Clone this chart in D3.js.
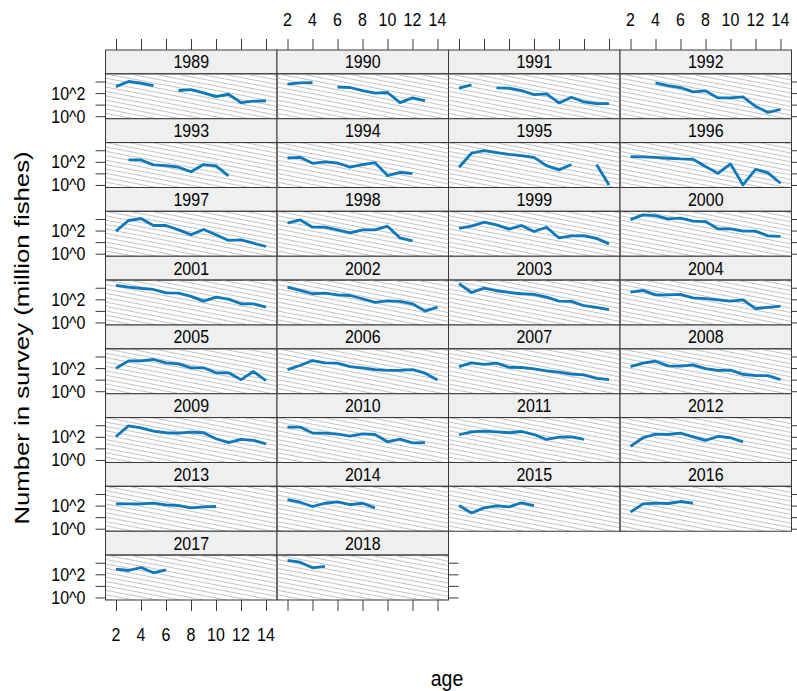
<!DOCTYPE html>
<html>
<head>
<meta charset="utf-8">
<script src="https://cdn.jsdelivr.net/npm/d3@7"></script>
<style>
  body { margin: 0; background: #fff; }
  text { font-family: Arial, "Liberation Sans", sans-serif; fill: #000; }
</style>
</head>
<body>
<div id="chart"></div>
<script>
'use strict';

// survey numbers by age (2..14), null = not sampled
var ages = [2, 3, 4, 5, 6, 7, 8, 9, 10, 11, 12, 13, 14];
var ageTicks = [2, 4, 6, 8, 10, 12, 14];
var years = [1989, 1990, 1991, 1992, 1993, 1994, 1995, 1996, 1997, 1998,
             1999, 2000, 2001, 2002, 2003, 2004, 2005, 2006, 2007, 2008,
             2009, 2010, 2011, 2012, 2013, 2014, 2015, 2016, 2017, 2018];
var yTicks = [1, 10, 100, 1000];
var yLabels = [[1, '10^0'], [100, '10^2']];

var n1989 = [363, 1000, 708, 447, null, 166, 200, 105, 50, 79, 15, 20, 21];
var n1990 = [589, 759, 813, null, 324, 302, 166, 98, 112, 15, 38, 22, null];
var n1991 = [263, 513, null, 282, 263, 166, 74, 85, 14, 44, 17, 12, 12];
var n1992 = [null, null, 759, 447, 302, 126, 155, 38, 38, 47, 7.2, 2.1, 3.8];
var n1993 = [null, 145, 145, 54, 47, 34, 14, 58, 44, 6, null, null, null];
var n1994 = [214, 245, 74, 98, 79, 34, 58, 85, 6.5, 12, 9.5, null, null];
var n1995 = [34, 550, 933, 631, 447, 347, 245, 47, 20, 58, null, 58, 1];
var n1996 = [282, 263, 245, 204, 178, 166, 39, 10, 66, 1, 22, 11, 1.4];
var n1997 = [89, 741, 1096, 275, 275, 115, 43, 123, 43, 14, 16, 8.1, 4.2];
var n1998 = [437, 851, 195, 195, 115, 63, 115, 115, 240, 23, 13, null, null];
var n1999 = [158, 240, 525, 309, 132, 275, 83, 195, 23, 35, 37, 21, 7.1];
var n2000 = [891, 2291, 1995, 1023, 1175, 646, 603, 141, 141, 89, 89, 35, 31];
var n2001 = [1585, 1122, 871, 708, 363, 347, 178, 69, 155, 105, 41, 41, 21];
var n2002 = [1122, 589, 302, 347, 245, 214, 112, 54, 74, 66, 41, 9.5, 21];
var n2003 = [2239, 389, 933, 550, 389, 302, 263, 155, 69, 66, 28, 20, 13];
var n2004 = [417, 589, 245, 245, 263, 135, 117, 91, 69, 91, 16, 20, 26];
var n2005 = [98, 417, 417, 550, 282, 229, 105, 105, 39, 39, 10, 50, 8.3];
var n2006 = [74, 166, 447, 282, 263, 135, 105, 74, 62, 62, 74, 36, 9.5];
var n2007 = [135, 282, 204, 263, 117, 112, 85, 58, 44, 30, 26, 13, 10];
var n2008 = [135, 263, 389, 155, 145, 191, 91, 62, 66, 28, 22, 22, 10];
var n2009 = [107, 891, 603, 309, 224, 209, 257, 224, 68, 32, 59, 49, 25];
var n2010 = [692, 692, 209, 209, 170, 115, 182, 158, 37, 63, 30, 32, null];
var n2011 = [151, 269, 309, 269, 224, 288, 158, 59, 93, 100, 59, null, null];
var n2012 = [15, 83, 170, 158, 209, 100, 49, 107, 83, 37, null, null, null];
var n2013 = [141, 141, 141, 162, 115, 100, 63, 78, 83, null, null, null, null];
var n2014 = [331, 195, 83, 158, 209, 123, 158, 63, null, null, null, null, null];
var n2015 = [100, 23, 63, 93, 78, 174, 100, null, null, null, null, null, null];
var n2016 = [27, 141, 162, 151, 224, 162, null, null, null, null, null, null, null];
var n2017 = [282, 214, 389, 135, 245, null, null, null, null, null, null, null, null];
var n2018 = [1585, 1122, 363, 479, null, null, null, null, null, null, null, null, null];

var counts = [n1989, n1990, n1991, n1992, n1993, n1994, n1995, n1996, n1997, n1998,
              n1999, n2000, n2001, n2002, n2003, n2004, n2005, n2006, n2007, n2008,
              n2009, n2010, n2011, n2012, n2013, n2014, n2015, n2016, n2017, n2018];

var width = 797, height = 691;
var nCols = 4, nRows = 8;
var gridLeft = 105.5, gridTop = 50;
var colW = 171.5, rowH = 68.75, stripH = 23.8;
var panelH = rowH - stripH;
var lineCol = '#0d78bb';
var frameCol = '#3a3a3a';
var stretch = 1.15;
var fontSize = 16;

var svg = d3.select('#chart')
            .append('svg')
            .attr('width', width)
            .attr('height', height);

var x = d3.scaleLinear().domain([1.16, 14.88]).range([0, colW]);
var y = d3.scaleLog().domain([Math.pow(10, -0.22), Math.pow(10, 3.665)]).range([panelH, 0]);

var line = d3.line()
             .defined(function(d) { return d[1] != null; })
             .x(function(d) { return x(d[0]); })
             .y(function(d) { return y(d[1]); });

// stretched text, like the original
var label = function(g, tx, ty, txt, anchor) {
  g.append('text')
   .attr('transform', 'translate(' + tx + ',' + ty + ') scale(1,' + stretch + ')')
   .attr('text-anchor', anchor)
   .style('font-size', fontSize + 'px')
   .text(txt);
};

var styleAxis = function(g) {
  g.select('.domain').remove();
  g.selectAll('.tick line').attr('stroke', frameCol).attr('stroke-width', 1);
};

var defs = svg.append('defs');

years.forEach(function(yr, i) {
  var col = i % nCols, row = Math.floor(i / nCols);
  var px = gridLeft + col * colW;
  var py = gridTop + row * rowH;
  var g = svg.append('g').attr('transform', 'translate(' + px + ',' + py + ')');

  // strip
  g.append('rect')
   .attr('width', colW)
   .attr('height', stripH)
   .attr('fill', '#efefef')
   .attr('stroke', frameCol)
   .attr('stroke-width', 1);
  label(g, colW / 2, stripH / 2 + 6.5, yr, 'middle');

  var p = g.append('g').attr('transform', 'translate(0,' + stripH + ')');

  defs.append('clipPath')
      .attr('id', 'clip' + i)
      .append('rect')
      .attr('width', colW)
      .attr('height', panelH);

  // hatching
  var hatch = p.append('g').attr('clip-path', 'url(#clip' + i + ')');
  var slope = 0.19, sp = 4.4;
  for (var k = -Math.ceil(slope * colW / sp) - 1; k < panelH / sp + 1; k++) {
    hatch.append('line')
         .attr('x1', 0)
         .attr('y1', k * sp)
         .attr('x2', colW)
         .attr('y2', k * sp + slope * colW)
         .attr('stroke', '#c4c4c4')
         .attr('stroke-width', 1);
  }

  p.append('path')
   .datum(ages.map(function(a, j) { return [a, counts[i][j]]; }))
   .attr('d', line)
   .attr('fill', 'none')
   .attr('stroke', lineCol)
   .attr('stroke-width', 2.8)
   .attr('stroke-linejoin', 'round')
   .attr('clip-path', 'url(#clip' + i + ')');

  p.append('rect')
   .attr('width', colW)
   .attr('height', panelH)
   .attr('fill', 'none')
   .attr('stroke', frameCol)
   .attr('stroke-width', 1);

  // top axis
  if (row === 0) {
    g.append('g')
     .call(d3.axisTop(x).tickValues(ageTicks).tickSize(11).tickFormat(''))
     .call(styleAxis);
    if (col % 2 === 1) {
      ageTicks.forEach(function(a) { label(g, x(a), -py + 26, a, 'middle'); });
    }
  }

  // bottom axis, last row only
  if (row === nRows - 1) {
    g.append('g')
     .attr('transform', 'translate(0,' + rowH + ')')
     .call(d3.axisBottom(x).tickValues(ageTicks).tickSize(11).tickFormat(''))
     .call(styleAxis);
    if (col % 2 === 0) {
      ageTicks.forEach(function(a) { label(g, x(a), rowH + 40.5, a, 'middle'); });
    }
  }

  // left axis
  if (col === 0) {
    p.append('g')
     .call(d3.axisLeft(y).tickValues(yTicks).tickSize(10).tickFormat(''))
     .call(styleAxis);
    yLabels.forEach(function(t) { label(p, -20, y(t[0]) + 6.5, t[1], 'end'); });
  }

  // right axis
  if (col === nCols - 1 || i === years.length - 1) {
    p.append('g')
     .attr('transform', 'translate(' + colW + ',0)')
     .call(d3.axisRight(y).tickValues(yTicks).tickSize(10).tickFormat(''))
     .call(styleAxis);
  }
});

// axis titles
svg.append('text')
   .attr('transform', 'translate(447,686) scale(1,' + stretch + ')')
   .attr('text-anchor', 'middle')
   .style('font-size', '19.5px')
   .text('age');

svg.append('text')
   .attr('transform', 'translate(29,338) rotate(-90) scale(1.32,1)')
   .attr('text-anchor', 'middle')
   .style('font-size', '19.5px')
   .text('Number in survey (million fishes)');
</script>
</body>
</html>
